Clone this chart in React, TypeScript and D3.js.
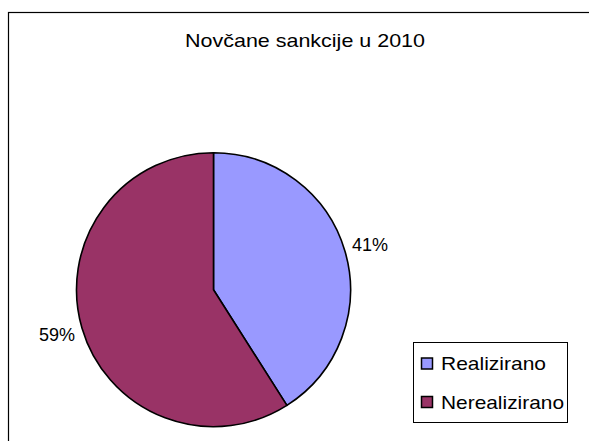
import React from "react";
import * as d3 from "d3";

const title = "Novčane sankcije u 2010";
const categories = ["Realizirano", "Nerealizirano"];
const values = [41, 59];
const colors = ["#9999FF", "#993366"];

const W = 589;
const H = 441;
const cx = 213.5;
const cy = 289.7;
const R = 137;
const labelR = 163;

export default function App() {
  const pie = d3.pie<number>().sort(null).value((d) => d);
  const arcs = pie(values);
  const arc = d3.arc<d3.PieArcDatum<number>>().innerRadius(0).outerRadius(R);
  const labelArc = d3.arc<d3.PieArcDatum<number>>().innerRadius(labelR).outerRadius(labelR);
  const total = d3.sum(values);

  const legendX = 413;
  const legendY = 342;
  const legendW = 154;
  const legendH = 80;
  const rowY = [363.5, 402];
  const legendWidths = [105, 123];

  return (
    <svg
      width={W}
      height={H}
      style={{ position: "absolute", left: 0, top: 0, background: "#fff" }}
      fontFamily="'Liberation Sans', Arial, sans-serif"
    >
      <rect x={0} y={0} width={W} height={H} fill="#fff" />
      <rect x={8.5} y={12.5} width={W + 20} height={H + 20} fill="none" stroke="#000" strokeWidth={1.2} />
      <text x={305} y={47} textAnchor="middle" fontSize={19} textLength={240} lengthAdjust="spacingAndGlyphs" fill="#000">
        {title}
      </text>
      <g transform={`translate(${cx},${cy})`}>
        {arcs.map((a, i) => (
          <path key={i} d={arc(a) || ""} fill={colors[i]} stroke="#000" strokeWidth={1.6} strokeLinejoin="round" />
        ))}
        {arcs.map((a, i) => {
          const [x, y] = labelArc.centroid(a);
          return (
            <text key={i} x={x} y={y} dy="0.35em" textAnchor="middle" fontSize={18} fill="#000">
              {`${Math.round((a.value / total) * 100)}%`}
            </text>
          );
        })}
      </g>
      <rect x={legendX + 0.5} y={legendY + 0.5} width={legendW} height={legendH} fill="#fff" stroke="#000" strokeWidth={1} />
      {categories.map((c, i) => (
        <g key={c}>
          <rect x={421.5} y={rowY[i] - 5.5} width={11} height={11} fill={colors[i]} stroke="#000" strokeWidth={1.5} />
          <text x={441} y={rowY[i]} dy="0.35em" fontSize={19} textLength={legendWidths[i]} lengthAdjust="spacingAndGlyphs" fill="#000">
            {c}
          </text>
        </g>
      ))}
    </svg>
  );
}
